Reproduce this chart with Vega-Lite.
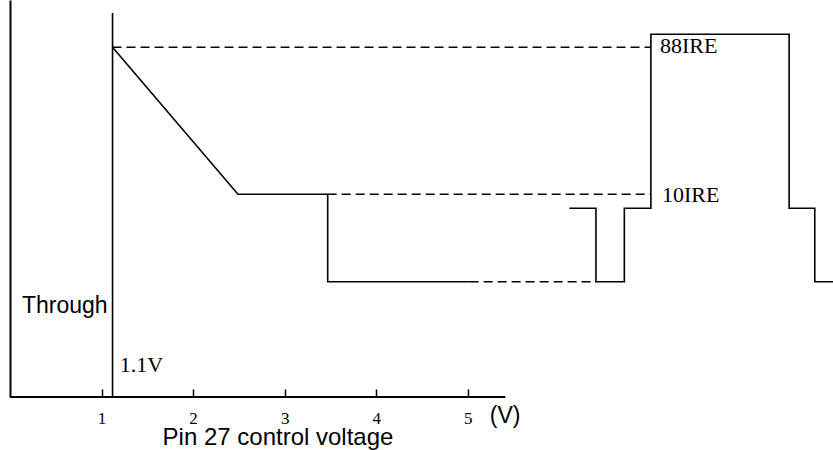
{
  "$schema": "https://vega.github.io/schema/vega-lite/v6.json",
  "autosize": "none",
  "width": 824,
  "height": 397,
  "padding": {"left": 10, "top": 0, "right": 0, "bottom": 53},
  "background": "white",
  "config": {"view": {"stroke": null}},
  "datasets": {
    "solid": [
      {"seg": "1.1V threshold", "ord": 1, "v": 1.12, "ire": -97.55},
      {"seg": "1.1V threshold", "ord": 2, "v": 1.12, "ire": 106.2},
      {"seg": "response", "ord": 1, "v": 1.12, "ire": 88},
      {"seg": "response", "ord": 2, "v": 2.49, "ire": 10},
      {"seg": "response", "ord": 3, "v": 3.47, "ire": 10},
      {"seg": "response", "ord": 4, "v": 3.47, "ire": -36.4},
      {"seg": "response", "ord": 5, "v": 5.02, "ire": -36.4},
      {"seg": "waveform", "ord": 1, "v": 6.11, "ire": 2.6},
      {"seg": "waveform", "ord": 2, "v": 6.40, "ire": 2.6},
      {"seg": "waveform", "ord": 3, "v": 6.40, "ire": -36.4},
      {"seg": "waveform", "ord": 4, "v": 6.71, "ire": -36.4},
      {"seg": "waveform", "ord": 5, "v": 6.71, "ire": 2.6},
      {"seg": "waveform", "ord": 6, "v": 7.00, "ire": 2.6},
      {"seg": "waveform", "ord": 7, "v": 7.00, "ire": 94.9},
      {"seg": "waveform", "ord": 8, "v": 8.51, "ire": 94.9},
      {"seg": "waveform", "ord": 9, "v": 8.51, "ire": 2.6},
      {"seg": "waveform", "ord": 10, "v": 8.79, "ire": 2.6},
      {"seg": "waveform", "ord": 11, "v": 8.79, "ire": -36.4},
      {"seg": "waveform", "ord": 12, "v": 9.0, "ire": -36.4}
    ],
    "axisline": [
      {"seg": "x axis", "ord": 1, "v": 0, "ire": -97.55},
      {"seg": "x axis", "ord": 2, "v": 5.41, "ire": -97.55}
    ],
    "dashed": [
      {"seg": "88IRE", "ord": 1, "v": 1.12, "ire": 88},
      {"seg": "88IRE", "ord": 2, "v": 7.00, "ire": 88},
      {"seg": "10IRE", "ord": 1, "v": 3.47, "ire": 10},
      {"seg": "10IRE", "ord": 2, "v": 7.00, "ire": 10},
      {"seg": "low", "ord": 1, "v": 5.02, "ire": -36.4},
      {"seg": "low", "ord": 2, "v": 6.40, "ire": -36.4}
    ],
    "serifText": [
      {"label": "88IRE", "v": 7.10, "ire": 84.8},
      {"label": "10IRE", "v": 7.12, "ire": 6.1},
      {"label": "1.1V", "v": 1.20, "ire": -84.4}
    ],
    "sansText": [
      {"label": "Through", "v": 0.13, "ire": -53.1},
      {"label": "(V)", "v": 5.24, "ire": -111.4}
    ]
  },
  "encoding": {
    "x": {
      "field": "v", "type": "quantitative",
      "scale": {"domain": [0, 9], "nice": false, "zero": false},
      "axis": {
        "values": [1, 2, 3, 4, 5],
        "domain": false, "grid": false,
        "tickSize": -8, "tickColor": "black", "tickWidth": 1.5,
        "labelFont": "Liberation Serif", "labelFontSize": 17, "labelColor": "black",
        "labelPadding": 21,
        "title": "Pin 27 control voltage",
        "titleFont": "Liberation Sans", "titleFontSize": 24, "titleFontWeight": "normal",
        "titleColor": "black", "titleX": 267.5, "titleY": 47, "titleAlign": "center",
        "titleBaseline": "alphabetic"
      }
    },
    "y": {
      "field": "ire", "type": "quantitative",
      "scale": {"domain": [-97.55, 113.1], "nice": false, "zero": false},
      "axis": {"domain": true, "domainColor": "black", "domainWidth": 2, "ticks": false, "labels": false, "grid": false, "title": null}
    }
  },
  "layer": [
    {
      "data": {"name": "solid"},
      "mark": {"type": "line", "color": "black", "strokeWidth": 1.6, "clip": false},
      "encoding": {"detail": {"field": "seg"}, "order": {"field": "ord"}}
    },
    {
      "data": {"name": "axisline"},
      "mark": {"type": "line", "color": "black", "strokeWidth": 2},
      "encoding": {"detail": {"field": "seg"}, "order": {"field": "ord"}}
    },
    {
      "data": {"name": "dashed"},
      "mark": {"type": "line", "color": "black", "strokeWidth": 1.6, "strokeDash": [9, 5]},
      "encoding": {"detail": {"field": "seg"}, "order": {"field": "ord"}}
    },
    {
      "data": {"name": "serifText"},
      "mark": {"type": "text", "font": "Liberation Serif", "fontSize": 22, "align": "left", "baseline": "alphabetic", "color": "black"},
      "encoding": {"text": {"field": "label"}}
    },
    {
      "data": {"name": "sansText"},
      "mark": {"type": "text", "font": "Liberation Sans", "fontSize": 23, "align": "left", "baseline": "alphabetic", "color": "black"},
      "encoding": {"text": {"field": "label"}}
    }
  ]
}
